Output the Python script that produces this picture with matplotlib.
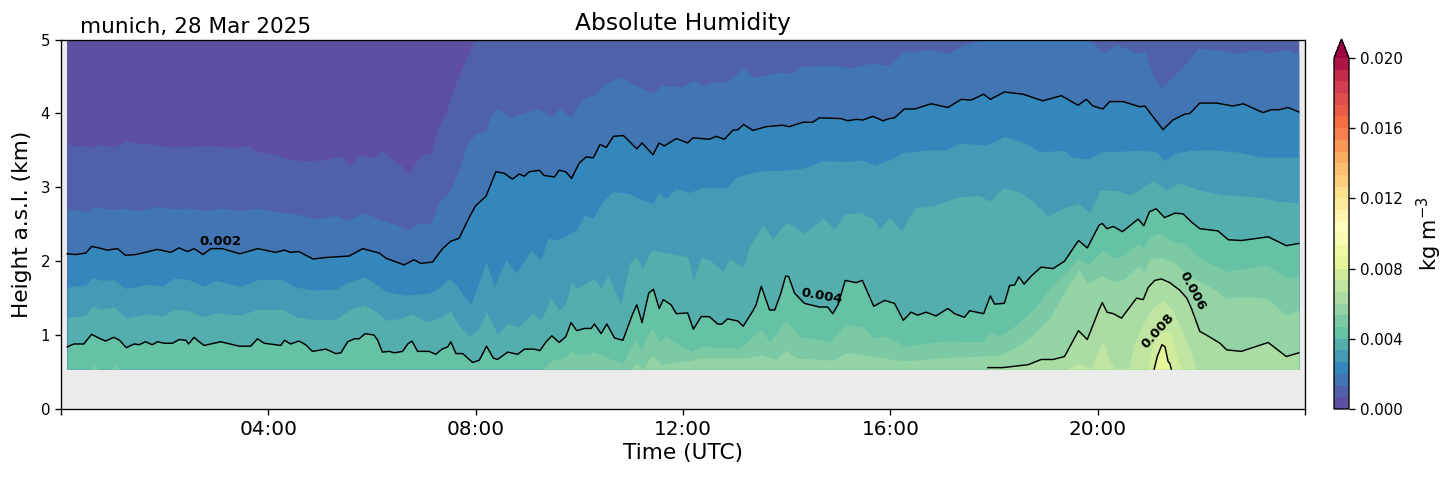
import numpy as np
import matplotlib
matplotlib.use("Agg")
import matplotlib.pyplot as plt
from matplotlib.colors import BoundaryNorm, ListedColormap
from matplotlib.cm import ScalarMappable

plt.rcParams.update({'axes.linewidth': 0.96, 'xtick.major.width': 0.96, 'ytick.major.width': 0.96,
                     'xtick.major.size': 4.2, 'ytick.major.size': 4.2})

# colour levels of the humidity field, kg m-3
levels = np.linspace(0, 0.02, 31)
cbar_ticks = [0, 0.004, 0.008, 0.012, 0.016, 0.020]
hour_ticks = [0, 4, 8, 12, 16, 20, 24]
hour_labels = ['', '04:00', '08:00', '12:00', '16:00', '20:00', '']
base_km = 0.54

# height (km) of each humidity isoline against time (h UTC)
t_l1 = [.12,.28,.44,.60,.77,1.02,1.25,1.51,1.70,2.02,2.54,2.76,3.11,3.40,3.60,3.79,4.14,4.31,4.66,5.11,5.30,5.43,5.56,5.75,6.04,6.17,6.36,6.56,6.70,6.85,6.98,7.12,7.27,7.43,7.59,7.78,7.97,23.88]
h_l1 = [3.60,3.55,3.57,3.54,3.59,3.54,3.63,3.59,3.59,3.55,3.55,3.57,3.55,3.53,3.57,3.48,3.45,3.39,3.36,3.37,3.42,3.41,3.29,3.43,3.41,3.51,3.39,3.30,3.17,3.35,3.45,3.44,3.80,4.02,4.36,4.68,5.00,5.00]

t_l2 = [.12,.32,.51,.64,.99,1.25,1.47,1.83,2.21,2.54,2.76,3.11,3.47,3.76,4.21,4.59,4.92,5.30,5.56,5.82,6.14,6.46,6.69,6.85,7.14,7.27,7.49,7.68,7.81,7.88,8.00,8.20,8.29,8.42,8.68,8.94,9.21,9.48,9.61,9.84,10.06,10.32,10.45,10.80,11.09,11.42,11.58,12.00,12.20,12.38,12.61,12.83,13.17,13.35,13.86,14.09,14.31,14.89,15.21,15.66,15.98,16.21,16.37,16.82,17.11,17.33,17.72,17.91,18.14,18.30,19.56,19.88,20.10,20.36,20.78,20.91,21.07,21.23,21.45,21.71,21.93,22.29,22.67,23.06,23.31,23.64,23.88]
h_l2 = [2.72,2.68,2.68,2.74,2.70,2.72,2.68,2.74,2.71,2.72,2.68,2.72,2.68,2.72,2.67,2.63,2.57,2.62,2.56,2.66,2.57,2.50,2.41,2.50,2.52,2.78,2.94,3.23,3.55,3.62,3.73,3.75,3.98,4.06,3.95,4.01,4.06,3.95,4.07,3.95,4.20,4.27,4.38,4.50,4.38,4.27,4.38,4.36,4.45,4.37,4.43,4.42,4.62,4.49,4.56,4.54,4.64,4.65,4.62,4.68,4.65,4.81,4.84,4.86,4.81,4.90,4.99,5.00,4.99,5.00,5.00,4.99,4.81,4.93,4.81,4.86,4.50,4.35,4.50,4.68,4.88,4.86,4.81,4.86,4.82,4.86,4.80]

t_l3 = [.12,.28,.48,.59,.73,.89,1.09,1.24,1.44,1.63,1.86,2.12,2.28,2.44,2.57,2.74,2.89,3.11,3.45,3.79,4.14,4.31,4.43,4.59,4.86,5.11,5.56,5.82,6.14,6.27,6.62,6.81,6.94,7.17,7.36,7.52,7.68,7.88,8.00,8.20,8.39,8.55,8.71,8.84,8.94,9.03,9.23,9.32,9.52,9.61,9.74,9.85,10.00,10.13,10.27,10.40,10.52,10.66,10.85,11.11,11.21,11.42,11.54,11.64,11.87,12.09,12.19,12.51,12.64,12.80,12.96,13.06,13.17,13.35,13.60,13.92,14.05,14.31,14.50,14.63,15.05,15.18,15.34,15.47,15.66,15.86,15.98,16.08,16.27,16.47,16.79,17.11,17.37,17.56,17.80,17.93,18.20,18.56,18.94,19.30,19.62,19.78,19.91,20.10,20.23,20.49,20.81,20.91,21.26,21.45,21.68,21.78,21.97,22.29,22.61,22.81,23.19,23.35,23.51,23.67,23.88]
h_l3 = [2.10,2.09,2.11,2.20,2.18,2.15,2.17,2.08,2.09,2.12,2.16,2.12,2.18,2.13,2.17,2.09,2.17,2.17,2.10,2.17,2.12,2.15,2.12,2.13,2.03,2.05,2.07,2.17,2.11,2.04,1.95,2.02,1.97,1.99,2.17,2.27,2.31,2.60,2.75,2.88,3.21,3.19,3.11,3.18,3.15,3.21,3.23,3.16,3.14,3.23,3.21,3.12,3.33,3.41,3.40,3.58,3.54,3.69,3.70,3.52,3.60,3.44,3.60,3.56,3.66,3.60,3.67,3.65,3.69,3.65,3.77,3.78,3.85,3.77,3.82,3.84,3.82,3.88,3.88,3.94,3.93,3.90,3.92,3.91,3.96,3.90,3.93,3.94,4.06,4.06,4.13,4.08,4.19,4.18,4.26,4.19,4.29,4.26,4.17,4.24,4.11,4.19,4.10,4.06,4.16,4.16,4.09,4.10,3.78,3.91,3.99,4.00,4.14,4.14,4.10,4.13,4.01,4.05,4.05,4.08,4.02]

t_l4 = [.12,.48,.59,.80,1.02,1.25,1.70,1.96,2.18,2.47,2.74,2.99,3.47,3.79,4.27,4.53,4.85,5.30,5.56,5.85,6.14,6.27,6.65,7.10,7.27,7.49,7.65,7.78,7.91,8.00,8.20,8.36,8.58,8.78,9.07,9.26,9.39,9.58,9.94,10.10,10.26,10.42,10.64,10.93,11.16,11.42,11.53,11.67,11.87,12.12,12.38,12.83,13.03,13.22,13.60,13.92,14.31,14.70,15.15,15.44,15.70,15.98,16.24,16.63,17.08,17.33,17.85,18.20,18.62,18.88,19.36,19.49,19.81,20.07,20.87,21.13,21.29,21.49,21.78,22.16,22.67,23.16,23.88]
h_l4 = [1.65,1.68,1.78,1.74,1.75,1.63,1.69,1.66,1.77,1.75,1.66,1.74,1.66,1.75,1.75,1.65,1.61,1.62,1.72,1.79,1.66,1.59,1.54,1.57,1.63,1.77,1.66,1.52,1.42,1.59,1.99,1.66,2.02,1.84,2.15,2.02,2.31,2.29,2.42,2.63,2.58,2.78,2.94,2.92,2.85,2.78,2.93,2.85,2.98,2.93,3.00,2.99,3.14,3.18,3.23,3.23,3.26,3.36,3.35,3.37,3.30,3.37,3.47,3.50,3.51,3.60,3.57,3.69,3.59,3.48,3.50,3.41,3.38,3.48,3.50,3.48,3.36,3.46,3.50,3.51,3.48,3.41,3.41]

t_l5 = [.12,.48,.59,.77,1.02,1.25,1.70,1.96,2.18,2.47,2.74,2.99,3.47,3.79,4.27,4.53,4.85,5.30,5.56,5.85,6.14,6.27,6.59,6.75,7.04,7.30,7.52,7.65,7.78,7.88,8.04,8.21,8.42,8.62,8.81,9.10,9.26,9.45,9.61,9.74,9.84,9.94,10.29,10.42,10.55,10.80,10.97,11.09,11.22,11.38,12.09,12.20,12.35,12.51,12.77,12.90,13.16,13.28,13.54,13.73,13.99,14.34,14.70,14.92,15.11,15.40,15.66,15.79,15.98,16.21,16.47,16.82,17.30,17.72,17.91,18.17,18.49,18.75,19.04,19.33,19.62,19.85,20.04,20.36,20.62,20.78,21.07,21.32,21.58,21.97,22.42,23.06,23.51,23.88]
h_l5 = [1.24,1.27,1.39,1.35,1.38,1.23,1.29,1.26,1.35,1.33,1.25,1.30,1.27,1.35,1.35,1.25,1.21,1.21,1.34,1.41,1.29,1.20,1.23,1.29,1.18,1.23,1.33,1.16,1.05,.98,1.07,1.31,1.01,1.16,1.11,1.29,1.20,1.50,1.34,1.43,1.72,1.63,1.77,1.63,1.81,1.41,1.97,2.07,1.90,2.15,2.06,1.75,2.05,2.02,1.87,2.03,1.92,2.20,2.49,2.30,2.53,2.38,2.58,2.44,2.63,2.66,2.58,2.44,2.59,2.41,2.72,2.75,2.87,2.89,2.81,2.99,2.94,2.81,2.61,2.72,2.78,2.66,2.96,2.96,2.90,2.96,3.09,2.96,3.06,2.96,2.90,2.87,2.81,2.79]

t_l6 = [.12,.25,.44,.59,.73,.86,1.02,1.13,1.26,1.41,1.51,1.63,1.76,1.86,1.99,2.15,2.28,2.41,2.46,2.57,2.63,2.76,3.08,3.44,3.66,3.79,3.92,4.24,4.31,4.43,4.59,4.72,4.85,5.11,5.30,5.40,5.53,5.66,5.75,5.87,6.04,6.11,6.20,6.33,6.43,6.59,6.69,6.77,6.88,7.10,7.23,7.35,7.46,7.52,7.62,7.75,7.94,8.07,8.21,8.34,8.42,8.62,8.81,8.94,9.13,9.24,9.36,9.47,9.61,9.74,9.84,9.95,10.10,10.23,10.29,10.42,10.53,10.68,10.84,11.03,11.11,11.21,11.34,11.43,11.54,11.62,11.77,11.87,12.09,12.20,12.35,12.51,12.67,12.75,12.86,13.06,13.16,13.35,13.41,13.51,13.67,13.77,13.89,13.98,14.04,14.15,14.34,14.63,14.79,14.89,14.99,15.13,15.34,15.46,15.68,15.89,15.98,16.08,16.25,16.40,16.53,16.69,16.88,17.11,17.24,17.43,17.53,17.80,17.93,18.01,18.20,18.30,18.40,18.48,18.58,18.72,18.91,19.14,19.36,19.63,19.80,20.03,20.09,20.18,20.30,20.48,20.78,20.89,21.00,21.13,21.29,21.49,21.65,21.81,21.97,22.32,22.52,22.77,23.29,23.64,23.88]
h_l6 = [.84,.88,.88,1.01,.96,.92,.97,.93,.83,.88,.87,.91,.87,.91,.89,.89,.94,.93,.88,.97,.93,.86,.91,.85,.85,.95,.89,.86,.93,.88,.92,.87,.78,.81,.75,.76,.91,.95,.95,1.02,1.00,.93,.77,.78,.76,.78,.88,.92,.78,.78,.74,.81,.84,.91,.75,.75,.63,.66,.85,.69,.67,.77,.74,.81,.81,.79,.91,.99,.90,.98,1.17,1.06,1.09,1.09,1.15,1.02,1.15,.96,.93,1.29,1.41,1.17,1.57,1.62,1.36,1.48,1.41,1.29,1.30,1.08,1.25,1.25,1.15,1.15,1.22,1.19,1.12,1.33,1.41,1.66,1.34,1.34,1.57,1.80,1.79,1.57,1.43,1.38,1.38,1.29,1.41,1.74,1.71,1.74,1.39,1.47,1.45,1.43,1.20,1.31,1.27,1.31,1.26,1.36,1.29,1.24,1.33,1.29,1.53,1.42,1.43,1.67,1.68,1.79,1.69,1.80,1.92,1.90,2.00,2.28,2.18,2.49,2.51,2.44,2.47,2.40,2.57,2.48,2.67,2.71,2.59,2.65,2.64,2.53,2.44,2.41,2.29,2.28,2.33,2.21,2.24]

t_l7 = [.54,.63,.72,.96,1.04,1.13,9.29,9.48,9.68,9.86,10.00,10.29,10.55,10.84,10.97,11.10,11.19,11.40,11.54,11.67,11.86,12.16,12.32,12.70,13.09,13.51,13.67,13.99,14.25,14.83,15.15,15.47,15.66,15.92,16.27,17.08,17.79,17.91,18.11,18.43,18.75,19.07,19.40,19.63,19.81,20.10,20.30,20.49,20.78,20.89,21.00,21.20,21.45,21.68,21.97,22.23,22.49,22.81,23.26,23.64,23.88]
h_l7 = [.54,.59,.54,.54,.59,.54,.54,.66,.69,.78,.73,.77,.69,.62,.82,.93,.80,1.11,.91,.99,.89,.78,.85,.83,.83,1.08,.91,1.20,.98,.91,1.14,1.11,.96,.99,.85,.92,.91,1.04,.99,1.14,1.34,1.63,1.86,2.04,1.95,2.15,2.04,2.08,2.24,2.17,2.33,2.38,2.26,2.24,2.04,1.95,1.86,1.90,1.95,1.77,1.80]

t_l8 = [10.97,11.10,11.22,11.40,11.58,12.16,12.32,13.22,13.51,13.80,13.99,14.18,14.89,15.15,15.53,16.24,17.21,18.11,18.43,18.75,19.07,19.40,19.63,19.81,20.07,20.30,20.49,20.78,20.89,21.00,21.20,21.45,21.78,22.23,22.49,22.81,23.26,23.64,23.88]
h_l8 = [.54,.61,.54,.72,.60,.66,.69,.69,.73,.67,.80,.69,.66,.76,.73,.65,.70,.73,.84,1.00,1.23,1.63,1.88,1.70,1.81,1.72,1.75,1.93,1.86,2.02,2.05,1.99,1.79,1.63,1.50,1.52,1.50,1.27,1.34]

t_l9 = [17.88,18.17,18.66,18.91,19.14,19.36,19.63,19.80,20.03,20.09,20.18,20.30,20.46,20.75,20.88,20.97,21.10,21.23,21.39,21.58,21.72,21.81,21.97,22.10,22.36,22.49,22.77,23.29,23.64,23.88]
h_l9 = [.56,.56,.60,.67,.67,.71,1.06,.94,1.35,1.44,1.31,1.29,1.23,1.50,1.48,1.64,1.74,1.76,1.71,1.61,1.50,1.36,1.05,1.00,.89,.80,.78,.90,.71,.76]

t_l10 = [19.40,19.62,19.88,19.97,20.10,20.23,20.33,20.59,20.71,20.88,21.07,21.26,21.45,21.65,21.81,21.90]
h_l10 = [.54,.62,.55,.73,.92,.66,.55,.55,.89,1.16,1.38,1.47,1.34,1.02,.75,.54]

t_l11 = [20.97,21.07,21.17,21.30,21.43,21.52,21.62]
h_l11 = [.54,.89,1.02,1.05,1.02,.71,.54]

t_l12 = [21.09,21.15,21.24,21.30,21.36,21.39,21.42]
h_l12 = [.54,.71,.87,.84,.64,.62,.54]

isolines = [(t_l1, h_l1), (t_l2, h_l2), (t_l3, h_l3), (t_l4, h_l4),
            (t_l5, h_l5), (t_l6, h_l6), (t_l7, h_l7), (t_l8, h_l8),
            (t_l9, h_l9), (t_l10, h_l10), (t_l11, h_l11), (t_l12, h_l12)]

# discrete Spectral_r, one colour per band
base_cmap = plt.get_cmap('Spectral_r')
band_colors = [base_cmap(i / 30) for i in range(30)]
cmap = ListedColormap(band_colors)
cmap.set_over(base_cmap(1.0))
norm = BoundaryNorm(levels, 30)

fig = plt.figure(figsize=(14.54, 4.78), dpi=100)
ax = fig.add_axes([61/1454, 1 - 409/478, (1305 - 61)/1454, (409 - 39.5)/478])
ax.set_facecolor('#ebebeb')

# lowest humidity band over the full column, the moister ones painted on top
ax.fill_between([t_l1[0], t_l1[-1]], base_km, 5, color=band_colors[0], lw=0)
for i, (t, h) in enumerate(isolines):
    ax.fill_between(t, base_km, h, color=band_colors[i + 1], lw=0)

# every third isoline is a black contour
for i in [2, 5, 8, 11]:
    t, h = isolines[i]
    ax.plot(t, h, color='k', lw=1.05)

label_style = dict(fontsize=9.6, fontweight='bold', ha='center', va='center')
ax.text(3.07, 2.26, '0.002', rotation=0, **label_style)
ax.text(14.67, 1.52, '0.004', rotation=-10, **label_style)
ax.text(21.83, 1.59, '0.006', rotation=-62, **label_style)
ax.text(21.16, 1.05, '0.008', rotation=48, **label_style)

ax.set_xlim(0, 24)
ax.set_ylim(0, 5)
ax.set_xticks(hour_ticks)
ax.set_xticklabels(hour_labels, fontsize=14.4)
ax.set_yticks(range(6))
ax.tick_params(axis='y', labelsize=10.8)
ax.set_xlabel('Time (UTC)', fontsize=15.6, labelpad=3)
ax.set_ylabel('Height a.s.l. (km)', fontsize=15.6, labelpad=6.5)
ax.set_title('Absolute Humidity', fontsize=16.8, pad=6.5)
fig.text(80/1454, 1 - 27/478, 'munich, 28 Mar 2025', fontsize=15.6, ha='left', va='center')

cax = fig.add_axes([1334/1454, 1 - 409/478, 15/1454, (409 - 39)/478])
cb = fig.colorbar(ScalarMappable(norm=norm, cmap=cmap), cax=cax, extend='max',
                  ticks=cbar_ticks, spacing='proportional', extendfrac=0.054)
cb.minorticks_off()
cb.ax.tick_params(labelsize=10.8)
cb.ax.set_yticklabels(['%.3f' % v for v in cbar_ticks])
cb.set_label('kg m$^{-3}$', fontsize=15, labelpad=9)

fig.savefig('out.png', dpi=100)
